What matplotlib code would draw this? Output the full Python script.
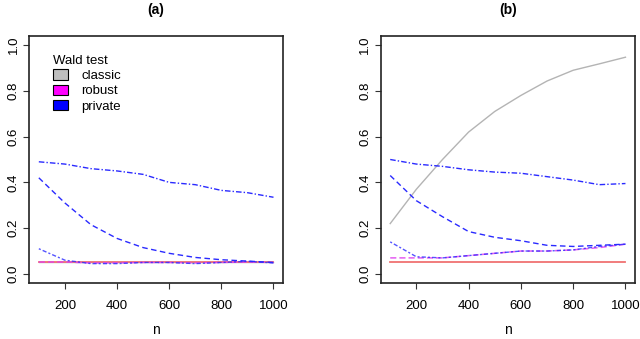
import matplotlib
matplotlib.use("Agg")
import matplotlib.pyplot as plt
from matplotlib.patches import Patch

plt.rcParams['font.family'] = ['Liberation Sans', 'DejaVu Sans']

n = [100, 200, 300, 400, 500, 600, 700, 800, 900, 1000]
nominal = 0.05

# Panel (a)
a_classic = [0.05, 0.05, 0.05, 0.05, 0.05, 0.05, 0.05, 0.05, 0.05, 0.05]
a_robust = [0.052, 0.052, 0.048, 0.048, 0.05, 0.05, 0.048, 0.05, 0.052, 0.05]
a_priv1 = [0.49, 0.48, 0.46, 0.45, 0.435, 0.40, 0.39, 0.365, 0.355, 0.335]
a_priv2 = [0.42, 0.31, 0.215, 0.155, 0.115, 0.09, 0.072, 0.062, 0.056, 0.05]
a_priv3 = [0.11, 0.06, 0.045, 0.045, 0.05, 0.05, 0.045, 0.05, 0.055, 0.048]

# Panel (b)
b_classic = [0.22, 0.37, 0.50, 0.62, 0.71, 0.78, 0.843, 0.89, 0.918, 0.947]
b_robust = [0.07, 0.07, 0.07, 0.08, 0.09, 0.10, 0.10, 0.105, 0.115, 0.13]
b_priv1 = [0.50, 0.48, 0.47, 0.455, 0.445, 0.44, 0.425, 0.41, 0.39, 0.395]
b_priv2 = [0.43, 0.32, 0.25, 0.185, 0.16, 0.145, 0.125, 0.12, 0.125, 0.13]
b_priv3 = [0.14, 0.075, 0.07, 0.08, 0.09, 0.10, 0.10, 0.105, 0.12, 0.13]

yticks = [0.0, 0.2, 0.4, 0.6, 0.8, 1.0]
xticks = [200, 400, 600, 800, 1000]
legend_labels = ["classic", "robust", "private"]
legend_colors = ["#bebebe", "#ff00ff", "#0000ff"]

RED = "#f07272"
GRAY = "#b4b4b4"
MAG = "#e040f0"
BLUE = "#2a2aff"

fig = plt.figure(figsize=(6.4, 3.39), dpi=100)
ax1 = fig.add_axes([0.046, 0.165, 0.396, 0.729])
ax2 = fig.add_axes([0.595, 0.165, 0.397, 0.729])


def draw(ax, classic, robust, p1, p2, p3, title):
    ax.plot(n, classic, color=GRAY, lw=1.0)
    ax.plot(n, [nominal] * len(n), color=RED, lw=1.3)
    ax.plot(n, robust, color=MAG, lw=1.1, ls=(0, (4, 2)), alpha=0.85)
    ax.plot(n, p1, color=BLUE, lw=1.0, ls=(0, (4, 1.5, 1, 1.5)))
    ax.plot(n, p2, color=BLUE, lw=1.0, ls=(0, (4, 2.5)))
    ax.plot(n, p3, color=BLUE, lw=1.0, ls=(0, (1.5, 1.5, 3, 1.5)), alpha=0.8)
    ax.set_xlim(64, 1036)
    ax.set_ylim(-0.04, 1.04)
    ax.set_xticks(xticks)
    ax.set_xticklabels([str(v) for v in xticks], fontsize=9.5)
    ax.set_yticks(yticks)
    ax.set_yticklabels([f"{v:.1f}" for v in yticks], fontsize=9.5,
                       rotation=90, va='center')
    ax.tick_params(direction='out', length=4, width=0.8, color='#333333',
                   pad=8)
    ax.tick_params(axis='y', pad=3)
    for s in ax.spines.values():
        s.set_linewidth(1.2)
        s.set_color('#222222')
    ax.set_xlabel("n", fontsize=10, labelpad=8)
    ax.set_title(title, fontsize=10, fontweight='bold', pad=16)


draw(ax1, a_classic, a_robust, a_priv1, a_priv2, a_priv3, "(a)")
draw(ax2, b_classic, b_robust, b_priv1, b_priv2, b_priv3, "(b)")

handles = [Patch(facecolor=c, edgecolor='black', lw=0.8) for c in legend_colors]
leg = ax1.legend(handles, legend_labels, title="Wald test", loc='upper left',
                 bbox_to_anchor=(0.074, 0.945), frameon=False, fontsize=9.5,
                 title_fontsize=9.5, handlelength=1.1, handleheight=0.8,
                 handletextpad=1.0, labelspacing=0.2, borderaxespad=0)
leg._legend_box.align = "left"

fig.savefig("out.png", dpi=100)
